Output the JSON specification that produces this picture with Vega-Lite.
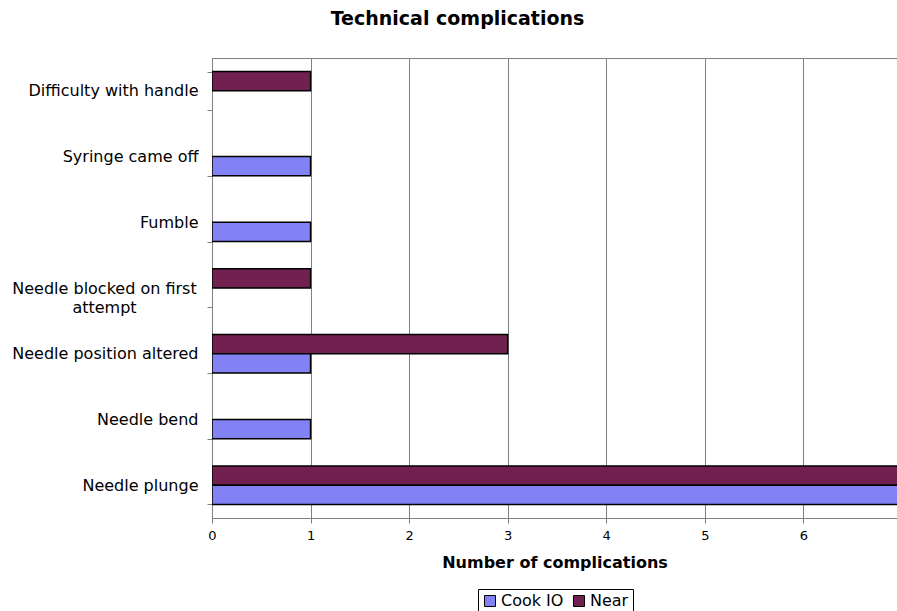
{
  "$schema": "https://vega.github.io/schema/vega-lite/v6.json",
  "width": 685,
  "height": 460,
  "autosize": {"type": "none"},
  "padding": {"left": 212, "top": 58, "right": 0, "bottom": 93},
  "background": "white",
  "title": {
    "text": "Technical complications",
    "font": "DejaVu Sans",
    "fontSize": 19,
    "fontWeight": "bold",
    "color": "black",
    "anchor": "middle",
    "dx": -97,
    "baseline": "alphabetic",
    "offset": 6
  },
  "config": {
    "view": {"stroke": "#808080", "strokeWidth": 1},
    "font": "DejaVu Sans"
  },
  "data": {
    "values": [
      {"complication": "Difficulty with handle", "device": "Near", "count": 1},
      {"complication": "Syringe came off", "device": "Cook IO", "count": 1},
      {"complication": "Fumble", "device": "Cook IO", "count": 1},
      {"complication": "Needle blocked on first attempt", "device": "Near", "count": 1},
      {"complication": "Needle position altered", "device": "Near", "count": 3},
      {"complication": "Needle position altered", "device": "Cook IO", "count": 1},
      {"complication": "Needle bend", "device": "Cook IO", "count": 1},
      {"complication": "Needle plunge", "device": "Near", "count": 7},
      {"complication": "Needle plunge", "device": "Cook IO", "count": 7}
    ]
  },
  "mark": {"type": "bar", "stroke": "black", "strokeWidth": 1.5, "clip": true},
  "encoding": {
    "y": {
      "field": "complication",
      "type": "nominal",
      "sort": ["Difficulty with handle", "Syringe came off", "Fumble", "Needle blocked on first attempt", "Needle position altered", "Needle bend", "Needle plunge"],
      "scale": {"paddingInner": 0.414, "paddingOuter": 0.207},
      "axis": {
        "title": null,
        "tickBand": "extent",
        "tickSize": 5,
        "tickColor": "#808080",
        "domainColor": "#808080",
        "labelFont": "DejaVu Sans",
        "labelFontSize": 16,
        "labelColor": "black",
        "labelLimit": 300,
        "labelLineHeight": 19,
        "labelExpr": "datum.value === 'Needle blocked on first attempt' ? ['Needle blocked on first', 'attempt'] : datum.value",
        "labelAlign": {"condition": {"test": "datum.value === 'Needle blocked on first attempt'", "value": "center"}, "value": "right"},
        "labelPadding": {"condition": {"test": "datum.value === 'Needle blocked on first attempt'", "value": 103}, "value": 9}
      }
    },
    "yOffset": {
      "field": "device",
      "type": "nominal",
      "sort": ["Near", "Cook IO"],
      "scale": {"paddingInner": 0, "paddingOuter": 0}
    },
    "x": {
      "field": "count",
      "type": "quantitative",
      "scale": {"domain": [0, 6.95], "nice": false},
      "axis": {
        "values": [0, 1, 2, 3, 4, 5, 6],
        "grid": true,
        "gridColor": "#808080",
        "gridOpacity": 1,
        "domainColor": "#808080",
        "tickColor": "#808080",
        "tickSize": 5,
        "labelFlush": false,
        "labelFont": "DejaVu Sans",
        "labelFontSize": 13,
        "labelColor": "black",
        "labelPadding": 6,
        "title": "Number of complications",
        "titleFont": "DejaVu Sans",
        "titleFontSize": 16,
        "titleFontWeight": "bold",
        "titleColor": "black",
        "titlePadding": 12
      }
    },
    "color": {
      "field": "device",
      "type": "nominal",
      "scale": {"domain": ["Cook IO", "Near"], "range": ["#8282f5", "#70214f"]},
      "legend": {
        "orient": "none",
        "legendX": 266,
        "legendY": 531,
        "direction": "horizontal",
        "title": null,
        "strokeColor": "black",
        "padding": 4,
        "symbolType": "square",
        "symbolSize": 121,
        "symbolStrokeColor": "black",
        "symbolStrokeWidth": 1,
        "symbolOpacity": 1,
        "labelFont": "DejaVu Sans",
        "labelFontSize": 16,
        "labelColor": "black",
        "columnPadding": 7,
        "labelOffset": 3
      }
    }
  }
}
